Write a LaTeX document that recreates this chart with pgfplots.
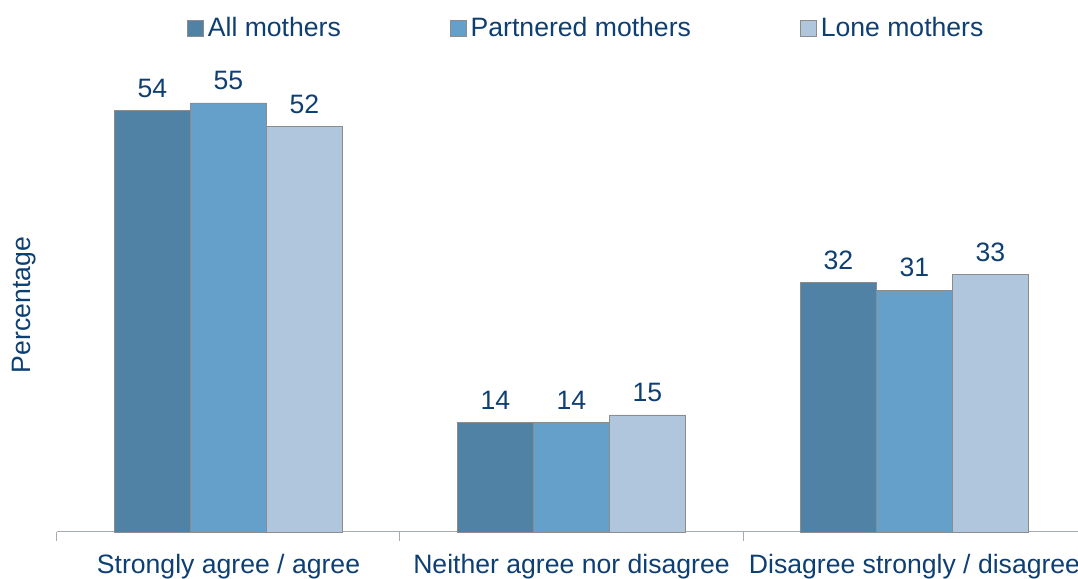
\documentclass[border=0pt]{standalone}
\usepackage{pgfplots}
\pgfplotsset{compat=1.18}
\usepackage{fontspec}
\setmainfont{Liberation Sans}
\definecolor{txt}{RGB}{14,63,115}
\definecolor{cA}{RGB}{80,130,165}
\definecolor{cB}{RGB}{100,160,202}
\definecolor{cC}{RGB}{175,198,221}
\definecolor{bord}{RGB}{140,140,140}
\definecolor{axc}{RGB}{166,172,183}
\newcommand{\fs}{\fontsize{13.3}{16}\selectfont}
\pgfplotsset{sq legend/.style={legend image code/.code={\draw[##1,draw=bord,line width=0.4pt] (0pt,-4pt) rectangle (8pt,4pt);}}}
\begin{document}
\begin{tikzpicture}[font=\fs]
\begin{axis}[
  at={(0,0)}, anchor=south west,
  scale only axis, width=514.5pt, height=234pt,
  xmin=-0.5, xmax=2.5, ymin=0, ymax=60,
  ybar=0pt, bar width=38pt,
  axis x line*=bottom, axis y line*=left,
  y axis line style={draw=none},
  x axis line style={axc, line width=0.5pt},
  ytick=\empty,
  xtick={0,1,2},
  xticklabels={Strongly agree / agree, Neither agree nor disagree, Disagree strongly / disagree},
  minor xtick={-0.5,0.5,1.5,2.5},
  major tick length=0pt, minor tick length=4.5pt,
  tick align=outside,
  minor tick style={axc, line width=0.5pt},
  xticklabel style={text=txt, font=\fs, yshift=-7.8pt},
  ylabel=Percentage,
  ylabel style={text=txt, font=\fs, at={(axis description cs:-0.032,0.485)}, anchor=center},
  nodes near coords,
  /pgf/number format/assume math mode=true,
  nodes near coords style={text=txt, font=\fs, yshift=3pt},
  clip=false,
  legend columns=3,
  legend style={draw=none, fill=none, at={(axis description cs:0.126,1.077)}, anchor=west,
    text=txt, font=\fs, inner sep=0pt,
    /tikz/every even column/.append style={column sep=52.5pt}},
]
\addplot[fill=cA, draw=bord, line width=0.4pt, sq legend] coordinates {(0,54) (1,14) (2,32)};
\addplot[fill=cB, draw=bord, line width=0.4pt, sq legend] coordinates {(0,55) (1,14) (2,31)};
\addplot[fill=cC, draw=bord, line width=0.4pt, sq legend] coordinates {(0,52) (1,15) (2,33)};
\legend{All mothers, Partnered mothers, Lone mothers}
\end{axis}
\pgfresetboundingbox
\useasboundingbox (-28.5pt,-23.5pt) rectangle (510.5pt,266pt);
\end{tikzpicture}
\end{document}
